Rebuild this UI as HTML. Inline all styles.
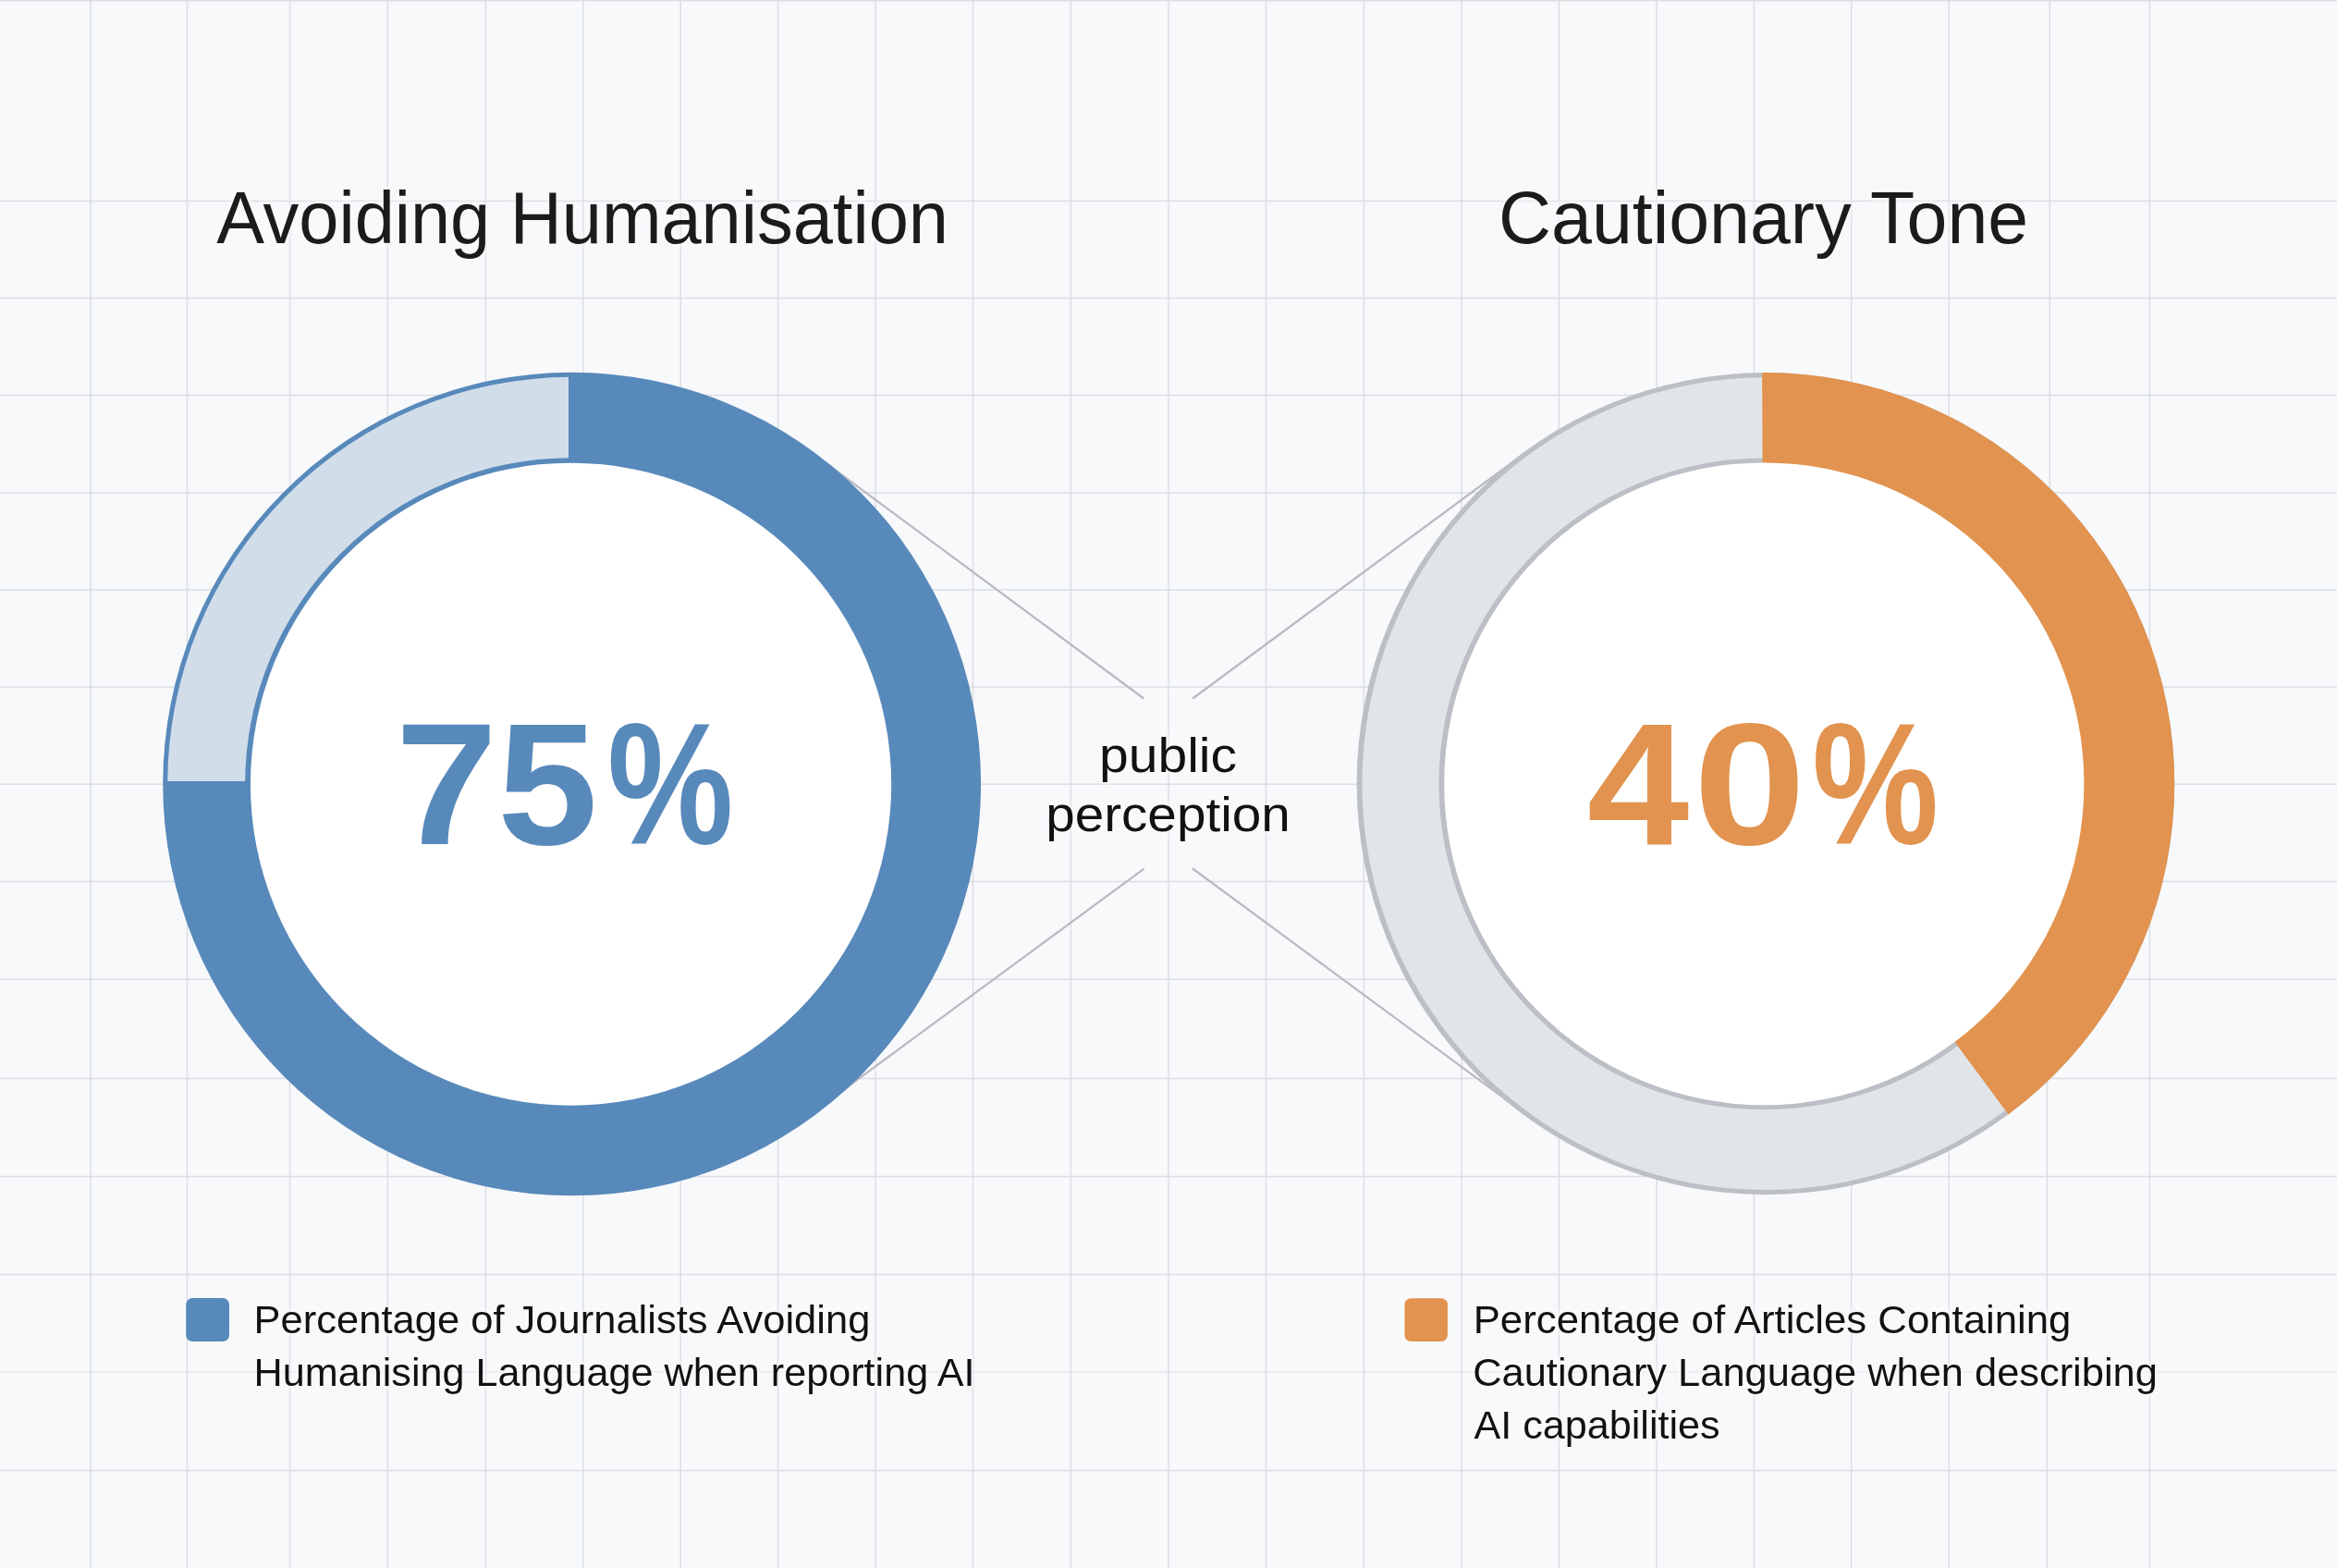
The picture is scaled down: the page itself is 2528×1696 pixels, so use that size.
<!DOCTYPE html>
<html lang="en">
<head>
<meta charset="utf-8">
<title>Avoiding Humanisation / Cautionary Tone</title>
<style>
html,body{margin:0;padding:0;background:#f8f9fb;}
body{width:2528px;height:1696px;overflow:hidden;position:relative;font-family:"Liberation Sans",sans-serif;}
svg{position:absolute;left:0;top:0;display:block}
text{font-family:"Liberation Sans",sans-serif;}
</style>
</head>
<body>
<svg width="2528" height="1696" viewBox="0 0 2528 1696">
<rect width="2528" height="1696" fill="#f8f9fb"/>

<g stroke="#dbdee3" stroke-width="1.5" fill="none">
<line x1="98" y1="0" x2="98" y2="1696"/>
<line x1="202.5" y1="0" x2="202.5" y2="1696"/>
<line x1="313.6" y1="0" x2="313.6" y2="1696"/>
<line x1="419.4" y1="0" x2="419.4" y2="1696"/>
<line x1="525.4" y1="0" x2="525.4" y2="1696"/>
<line x1="631" y1="0" x2="631" y2="1696"/>
<line x1="736.2" y1="0" x2="736.2" y2="1696"/>
<line x1="841.6" y1="0" x2="841.6" y2="1696"/>
<line x1="947" y1="0" x2="947" y2="1696"/>
<line x1="1052.5" y1="0" x2="1052.5" y2="1696"/>
<line x1="1158.3" y1="0" x2="1158.3" y2="1696"/>
<line x1="1264" y1="0" x2="1264" y2="1696"/>
<line x1="1369.5" y1="0" x2="1369.5" y2="1696"/>
<line x1="1475.3" y1="0" x2="1475.3" y2="1696"/>
<line x1="1581" y1="0" x2="1581" y2="1696"/>
<line x1="1686.4" y1="0" x2="1686.4" y2="1696"/>
<line x1="1791.9" y1="0" x2="1791.9" y2="1696"/>
<line x1="1897.5" y1="0" x2="1897.5" y2="1696"/>
<line x1="2002.6" y1="0" x2="2002.6" y2="1696"/>
<line x1="2108.3" y1="0" x2="2108.3" y2="1696"/>
<line x1="2325.4" y1="0" x2="2325.4" y2="1696"/>
<line x1="2217.3" y1="0" x2="2217.3" y2="800"/>
<line x1="2214.4" y1="900" x2="2214.4" y2="1696"/>
<line x1="0" y1="217.5" x2="2528" y2="217.5"/>
<line x1="0" y1="322.6" x2="2528" y2="322.6"/>
<line x1="0" y1="427.5" x2="2528" y2="427.5"/>
<line x1="0" y1="533" x2="2528" y2="533"/>
<line x1="0" y1="638" x2="2528" y2="638"/>
<line x1="0" y1="743" x2="2528" y2="743"/>
<line x1="0" y1="848.3" x2="2528" y2="848.3"/>
<line x1="0" y1="953.5" x2="2528" y2="953.5"/>
<line x1="0" y1="1059.2" x2="2528" y2="1059.2"/>
<line x1="0" y1="1166.5" x2="2528" y2="1166.5"/>
<line x1="0" y1="1272.5" x2="2528" y2="1272.5"/>
<line x1="0" y1="1378.5" x2="2528" y2="1378.5"/>
<line x1="0" y1="1483.7" x2="2528" y2="1483.7" stroke-opacity="0.6"/>
<line x1="0" y1="1590.5" x2="2528" y2="1590.5"/>
</g>
<rect x="0" y="0" width="2528" height="1.5" fill="#dcdee2"/>
<g stroke="#b9bbc0" stroke-width="2.3" stroke-linecap="butt">
<line x1="1237.2" y1="755.5" x2="879.1" y2="490.3"/>
<line x1="1290.2" y1="755.5" x2="1652.4" y2="487.9"/>
<line x1="1237.6" y1="939.6" x2="891.6" y2="1194.2"/>
<line x1="1289.8" y1="939.2" x2="1647.6" y2="1203.1"/>
</g>
<defs>
<filter id="halo" x="-5%" y="-40%" width="110%" height="180%" color-interpolation-filters="sRGB"><feMorphology in="SourceAlpha" operator="dilate" radius="2.5" result="d"/><feGaussianBlur in="d" stdDeviation="3.2" result="b"/><feFlood flood-color="#f9fafc" flood-opacity="0.7"/><feComposite in2="b" operator="in" result="h"/><feMerge><feMergeNode in="h"/><feMergeNode in="SourceGraphic"/></feMerge></filter>
<clipPath id="q1"><rect x="0" y="0" width="615.1" height="845"/></clipPath>
<clipPath id="wedge"><polygon points="1908,848 1905.7,300 2500,300 2500,1400 2251,1311.5"/></clipPath>
</defs>
<ellipse cx="618.65" cy="848.05" rx="442.45" ry="445.25" fill="#5889bb"/>
<ellipse cx="618.65" cy="848.05" rx="437.45" ry="440.25" fill="#d2ddea" clip-path="url(#q1)"/>
<ellipse cx="617.55" cy="848.2" rx="352.45" ry="352.9" fill="#5889bb"/>
<ellipse cx="617.55" cy="848.2" rx="346.65" ry="347.5" fill="#ffffff"/>
<ellipse cx="1909.9" cy="847.65" rx="442.3" ry="444.55" fill="#bdbfc6"/>
<ellipse cx="1909.9" cy="847.65" rx="436.5" ry="439.45" fill="#e1e5e8"/>
<ellipse cx="1908.3" cy="847.85" rx="351.90000000000003" ry="352.45" fill="#bdbfc6"/>
<ellipse cx="1909.9" cy="847.65" rx="442.3" ry="444.55" fill="#e1934f" clip-path="url(#wedge)"/>
<ellipse cx="1908.3" cy="847.85" rx="346.1" ry="347.45" fill="#ffffff"/>
<rect x="201.2" y="1404" width="46.8" height="47" rx="7" fill="#5889bb"/>
<rect x="1519.4" y="1404.3" width="46.5" height="46.7" rx="7" fill="#e1934f"/>
<text transform="translate(234.20 263.30) scale(0.9817 1)" font-size="79" fill="#1b1b1d" filter="url(#halo)">Avoiding Humanisation</text>
<text transform="translate(1621.05 263.30) scale(0.9989 1)" font-size="79" fill="#1b1b1d" filter="url(#halo)">Cautionary Tone</text>
<text y="912.8" font-size="187.7" font-weight="bold" fill="#5889bb"><tspan x="427.77" textLength="110.36" lengthAdjust="spacingAndGlyphs">7</tspan><tspan x="538.14" textLength="108.53" lengthAdjust="spacingAndGlyphs">5</tspan><tspan x="656.96" textLength="136.42" lengthAdjust="spacingAndGlyphs">%</tspan></text>
<text y="912.8" font-size="187.7" font-weight="bold" fill="#e1934f"><tspan x="1716.72" textLength="110.47" lengthAdjust="spacingAndGlyphs">4</tspan><tspan x="1831.84" textLength="121.73" lengthAdjust="spacingAndGlyphs">0</tspan><tspan x="1960.15" textLength="136.84" lengthAdjust="spacingAndGlyphs">%</tspan></text>
<text transform="translate(1189.01 835.20) scale(1.0971 1)" font-size="52" fill="#111113" filter="url(#halo)">public</text>
<text transform="translate(1131.13 898.60) scale(1.0903 1)" font-size="52" fill="#111113" filter="url(#halo)">perception</text>
<text transform="translate(274.52 1441.80) scale(1.0029 1)" font-size="43.4" fill="#111113" filter="url(#halo)">Percentage of Journalists Avoiding</text>
<text transform="translate(274.55 1498.80) scale(0.9950 1)" font-size="43.4" fill="#111113" filter="url(#halo)">Humanising Language when reporting AI</text>
<text transform="translate(1593.70 1441.70) scale(1.0081 1)" font-size="43.4" fill="#111113" filter="url(#halo)">Percentage of Articles Containing</text>
<text transform="translate(1593.23 1498.70) scale(1.0000 1)" font-size="43.4" fill="#111113" filter="url(#halo)">Cautionary Language when describing</text>
<text transform="translate(1594.60 1555.50) scale(0.9938 1)" font-size="43.4" fill="#111113" filter="url(#halo)">AI capabilities</text>
</svg>
</body>
</html>
